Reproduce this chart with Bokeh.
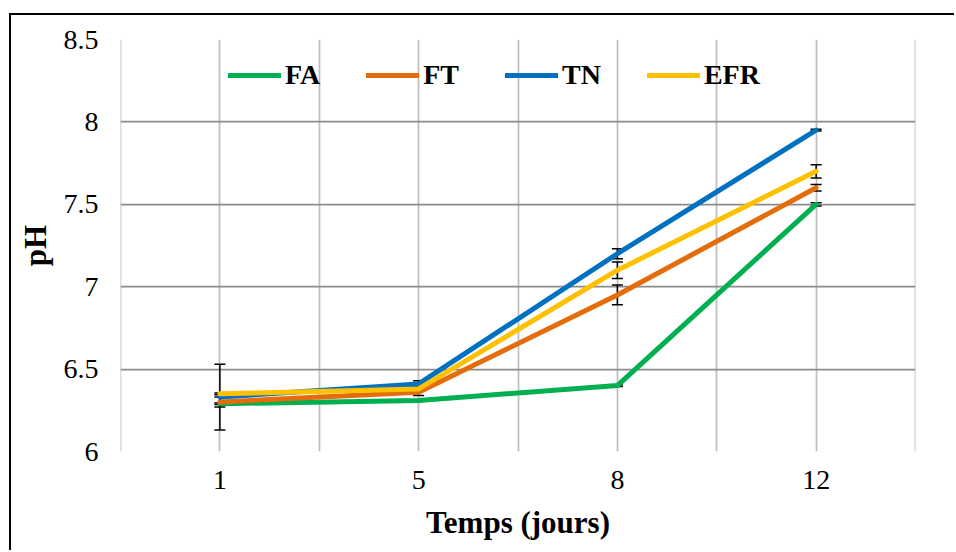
from bokeh.plotting import figure
from bokeh.models import Legend, LegendItem, FixedTicker, Range1d
from bokeh.embed import file_html
from bokeh.resources import INLINE
import numpy as np

# ---- data ----
days = ["1", "5", "8", "12"]
series_names = ["FA", "FT", "TN", "EFR"]
fa = [6.29, 6.31, 6.40, 7.50]
ft = [6.30, 6.36, 6.95, 7.60]
tn = [6.33, 6.41, 7.20, 7.95]
efr = [6.35, 6.38, 7.10, 7.70]
fa_err = [0.005, 0.005, 0.005, 0.01]
ft_err = [0.03, 0.02, 0.06, 0.02]
tn_err = [0.20, 0.02, 0.03, 0.005]
efr_err = [0.005, 0.01, 0.05, 0.04]
colors = ["#00B050", "#E46C0A", "#0070C0", "#FFC000"]
y_ticks = [6, 6.5, 7, 7.5, 8, 8.5]

values = [fa, ft, tn, efr]
errors = [fa_err, ft_err, tn_err, efr_err]

xpos = (np.arange(len(days)) + 0.5).tolist()

FONT = "Liberation Serif"

p = figure(width=945, height=537, output_backend="svg", toolbar_location=None,
           x_range=Range1d(0, len(days)), y_range=Range1d(6, 8.5),
           min_border_left=109, min_border_right=41, min_border_top=24,
           min_border_bottom=101)
p.margin = (15, 0, 0, 11)
p.styles = {"box-shadow": "-2px -2px 0 0 #000000"}
p.outline_line_color = None
p.background_fill_color = "white"
p.border_fill_color = "white"

# grids
grid_x = np.arange(0, len(days) + 0.01, 0.5)
grid_x[0] += 0.002
grid_x[-1] -= 0.002
p.xgrid.ticker = FixedTicker(ticks=grid_x.tolist())
p.xgrid.grid_line_color = "#bfbfbf"
p.xgrid.grid_line_width = 1.75
p.ygrid.ticker = FixedTicker(ticks=y_ticks)
p.ygrid.grid_line_color = "#8c8c8c"
p.ygrid.grid_line_width = 1.75

# axes
p.xaxis.ticker = FixedTicker(ticks=xpos)
p.xaxis.major_label_overrides = {x: d for x, d in zip(xpos, days)}
p.yaxis.ticker = FixedTicker(ticks=y_ticks)
p.yaxis.major_label_overrides = {6: "6", 6.5: "6.5", 7: "7", 7.5: "7.5", 8: "8", 8.5: "8.5"}
for ax in (p.xaxis, p.yaxis):
    ax.axis_line_color = None
    ax.major_tick_line_color = None
    ax.minor_tick_line_color = None
    ax.major_tick_out = 0
    ax.major_tick_in = 0
    ax.major_label_text_font = FONT
    ax.major_label_text_font_size = "28px"
    ax.major_label_text_color = "black"
    ax.axis_label_text_font = FONT
    ax.axis_label_text_font_size = "31px"
    ax.axis_label_text_font_style = "bold"
    ax.axis_label_text_color = "black"
p.xaxis.axis_label = "Temps (jours)"
p.yaxis.axis_label = "pH"
p.xaxis.major_label_standoff = 19
p.xaxis.axis_label_standoff = 13
p.yaxis.major_label_standoff = 22
p.yaxis.axis_label_standoff = 8

# error bars (under the lines)
for vals, errs in zip(values, errors):
    lo = [v - e for v, e in zip(vals, errs)]
    hi = [v + e for v, e in zip(vals, errs)]
    p.segment(x0=xpos, y0=lo, x1=xpos, y1=hi, line_color="black", line_width=1.5)
    p.scatter(x=xpos + xpos, y=lo + hi, marker="dash", size=11,
              line_color="black", line_width=1.5)

# lines
items = []
for name, vals, col in zip(series_names, values, colors):
    r = p.line(x=xpos, y=vals, line_color=col, line_width=5,
               line_join="round", line_cap="round")
    items.append(LegendItem(label=name, renderers=[r]))

legend = Legend(items=items, orientation="horizontal", location=(108, 360),
                padding=0, margin=0, spacing=46, glyph_width=53, label_standoff=4,
                background_fill_alpha=0, border_line_color=None,
                label_text_font=FONT, label_text_font_size="28px",
                label_text_font_style="bold", label_text_color="black")
p.add_layout(legend)

open("out.html", "w").write(file_html(p, INLINE))
